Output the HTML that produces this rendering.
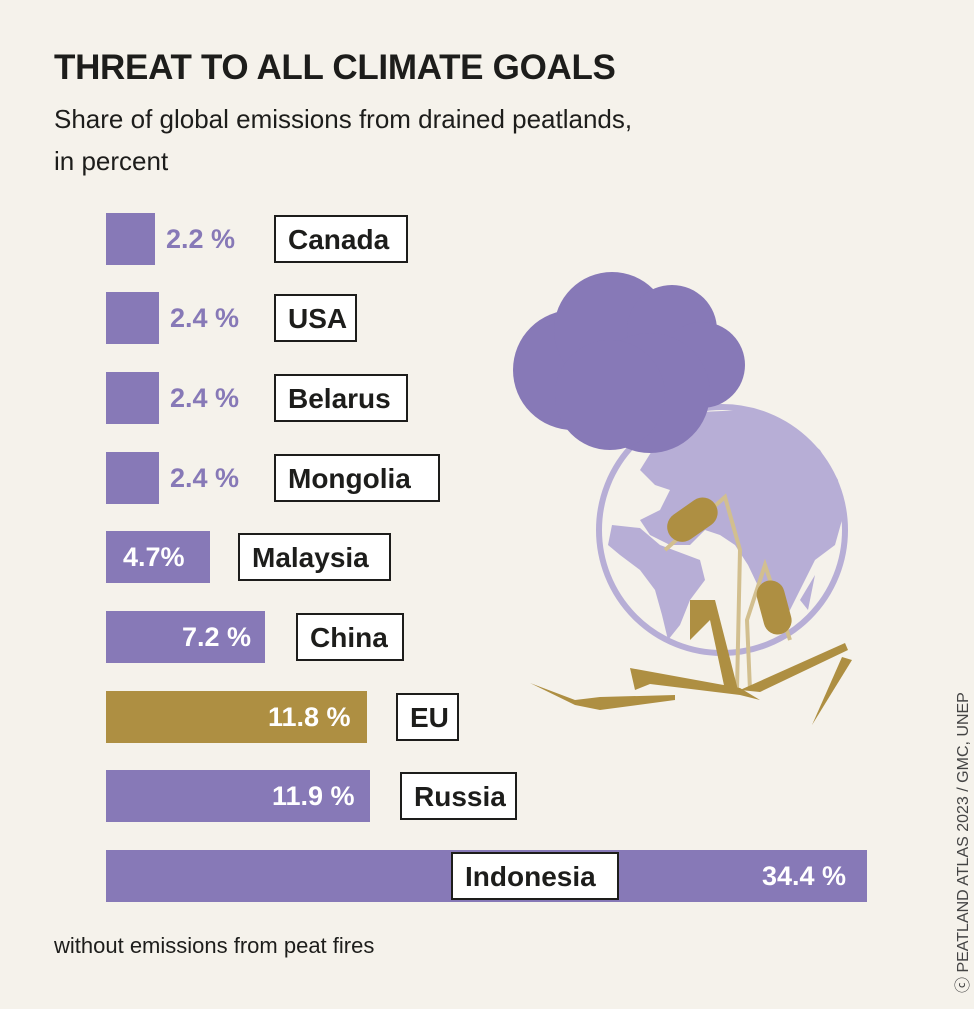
<!DOCTYPE html>
<html><head><meta charset="utf-8"><style>
body{margin:0;background:#f5f2eb;}
#c{position:relative;width:974px;height:1009px;overflow:hidden;background:#f5f2eb;font-family:"Liberation Sans",sans-serif;color:#1d1d1b;}
.t{position:absolute;white-space:nowrap;}
.bar{position:absolute;left:106px;height:52px;background:#8779b7;}
.lab{position:absolute;border:2px solid #1d1d1b;background:#fff;font-weight:bold;font-size:28px;padding:0 12px;box-sizing:border-box;height:48px;line-height:45px;}
.pc{position:absolute;font-weight:bold;font-size:27px;line-height:52px;}
</style></head><body><div id="c">
<div class="t" style="left:54px;top:48px;font-size:35px;font-weight:bold;letter-spacing:-0.3px">THREAT TO ALL CLIMATE GOALS</div>
<div class="t" style="left:54px;top:98px;font-size:26px;line-height:42px">Share of global emissions from drained peatlands,<br>in percent</div>

<svg style="position:absolute;left:0;top:0" width="974" height="1009">
<circle cx="722" cy="530" r="123" fill="#f5f2eb" stroke="#b7aed6" stroke-width="6"/>
<path d="M640 470 L665 430 L700 412 L745 410 L790 425 L820 450 L838 480 L842 520 L835 545 L815 560 L800 590 L790 610 L780 625 L770 620 L760 590 L748 565 L735 545 L720 535 L705 530 L690 545 L670 545 L650 535 L640 520 L660 510 L670 490 L655 485 Z" fill="#b7aed6"/>
<path d="M612 525 L640 528 L660 545 L700 560 L705 580 L690 600 L680 625 L668 640 L662 615 L655 590 L640 570 L620 555 L608 545 Z" fill="#b7aed6"/>
<path d="M800 600 L815 575 L808 610 Z" fill="#b7aed6"/>
<g fill="#8779b7">
<circle cx="573" cy="370" r="60"/><circle cx="612" cy="330" r="58"/><circle cx="672" cy="330" r="45"/><circle cx="702" cy="365" r="43"/><circle cx="650" cy="393" r="60"/><circle cx="610" cy="395" r="55"/>
</g>
<g stroke="#d2bf8f" stroke-width="4" fill="none">
<polyline points="665,550 725,497 740,550 737,690"/>
<polyline points="750,690 747,620 765,565 790,640"/>
</g>
<g fill="#ae8f42">
<rect x="665" y="505" width="55" height="30" rx="15" transform="rotate(-35 692 520)"/>
<rect x="760" y="580" width="28" height="55" rx="14" transform="rotate(-15 774 607)"/>
<polygon points="530,683 575,705 600,710 675,700 675,695 600,697 575,700"/>
<polygon points="630,668 740,688 760,700 740,695 650,684 635,690"/>
<polygon points="690,600 715,600 738,690 725,690 710,620 690,640"/>
<polygon points="740,690 845,643 848,650 760,692"/>
<polygon points="842,657 852,660 812,725"/>
</g>
</svg>

<div class="bar" style="top:213px;width:49px"></div>
<div class="pc" style="left:166px;top:213px;color:#8779b7">2.2 %</div>
<div class="lab" style="left:274px;top:215px;width:134px">Canada</div>

<div class="bar" style="top:292px;width:53px"></div>
<div class="pc" style="left:170px;top:292px;color:#8779b7">2.4 %</div>
<div class="lab" style="left:274px;top:294px;width:83px">USA</div>

<div class="bar" style="top:372px;width:53px"></div>
<div class="pc" style="left:170px;top:372px;color:#8779b7">2.4 %</div>
<div class="lab" style="left:274px;top:374px;width:134px">Belarus</div>

<div class="bar" style="top:452px;width:53px"></div>
<div class="pc" style="left:170px;top:452px;color:#8779b7">2.4 %</div>
<div class="lab" style="left:274px;top:454px;width:166px">Mongolia</div>

<div class="bar" style="top:531px;width:104px"></div>
<div class="pc" style="left:123px;top:531px;color:#fff">4.7%</div>
<div class="lab" style="left:238px;top:533px;width:153px">Malaysia</div>

<div class="bar" style="top:611px;width:159px"></div>
<div class="pc" style="left:182px;top:611px;color:#fff">7.2 %</div>
<div class="lab" style="left:296px;top:613px;width:108px">China</div>

<div class="bar" style="top:691px;width:261px;background:#ae8f42"></div>
<div class="pc" style="left:268px;top:691px;color:#fff">11.8 %</div>
<div class="lab" style="left:396px;top:693px;width:63px">EU</div>

<div class="bar" style="top:770px;width:264px"></div>
<div class="pc" style="left:272px;top:770px;color:#fff">11.9 %</div>
<div class="lab" style="left:400px;top:772px;width:117px">Russia</div>

<div class="bar" style="top:850px;width:761px"></div>
<div class="pc" style="left:762px;top:850px;color:#fff">34.4 %</div>
<div class="lab" style="left:451px;top:852px;width:168px">Indonesia</div>

<div class="t" style="left:54px;top:933px;font-size:22px">without emissions from peat fires</div>
<div class="t" style="left:949px;top:993px;font-size:16px;color:#444;transform:rotate(-90deg);transform-origin:0 0">ⓒ PEATLAND ATLAS 2023 / GMC, UNEP</div>
</div></body></html>
